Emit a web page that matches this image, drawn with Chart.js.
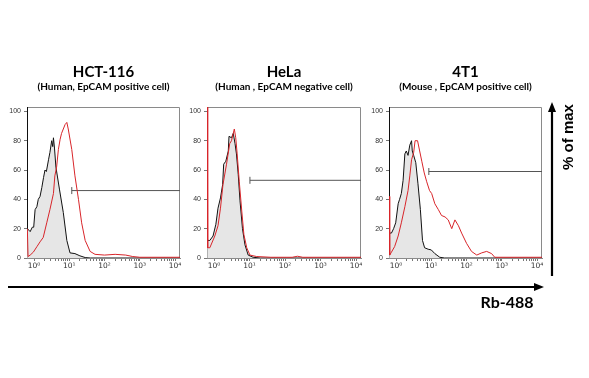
<!DOCTYPE html>
<html><head><meta charset="utf-8">
<script src="https://cdn.jsdelivr.net/npm/chart.js@4/dist/chart.umd.min.js"></script>
<style>
html,body{margin:0;padding:0;background:#fff;}
body{width:589px;height:378px;position:relative;overflow:hidden;}
.panel{position:absolute;top:55px;height:230px;}
.panel canvas{display:block;}
#ylab{position:absolute;left:567px;top:137px;transform:translate(-50%,-50%) rotate(-90deg);font:bold 15px "Liberation Sans",Arial,sans-serif;white-space:nowrap;color:#000;}
#xlab{position:absolute;left:507px;top:301px;transform:translate(-50%,-50%);font:bold 16px Lato,sans-serif;white-space:nowrap;color:#000;}
svg{position:absolute;left:0;top:0;}
</style></head>
<body>
<div class="panel" style="left:0px;width:186px"><canvas id="c0" width="186" height="230"></canvas></div>
<div class="panel" style="left:180px;width:187px"><canvas id="c1" width="187" height="230"></canvas></div>
<div class="panel" style="left:362px;width:186px"><canvas id="c2" width="186" height="230"></canvas></div>
<svg width="589" height="378">
  <line x1="8" y1="287" x2="536" y2="287" stroke="#000" stroke-width="2.2"/>
  <polygon points="534,283 544,287 534,291" fill="#000"/>
  <line x1="552" y1="276" x2="552" y2="110" stroke="#000" stroke-width="2.2"/>
  <polygon points="548,112 552,102 556,112" fill="#000"/>
</svg>
<div id="ylab">% of max</div>
<div id="xlab">Rb-488</div>
<script>
// ---- data (x values are log10 of fluorescence intensity) ----
const titles = ['HCT-116', 'HeLa', '4T1'];
const subtitles = ['(Human, EpCAM positive cell)', '(Human , EpCAM negative cell)', '(Mouse , EpCAM positive cell)'];
const tickLabels = ['10\u2070', '10\u00b9', '10\u00b2', '10\u00b3', '10\u2074'];
const majorTicks = [0, 1, 2, 3, 4];
const yTickVals = [0, 20, 40, 60, 80, 100];
const xMin = -0.2, xMax = 4.14, yMax = 103;

// HCT-116
const hctBlackX = [-0.19,-0.19,-0.11,-0.05,-0.01,0.03,0.08,0.12,0.17,0.22,0.27,0.31,0.35,0.41,0.45,0.50,0.53,0.55,0.58,0.62,0.72,0.83,0.93,1.02,1.16,1.30,1.45,1.6,4.14];
const hctBlackY = [103,20,18,21,21,33,35,40,42,48,55,60,59,67,72,80,76,82,75,62,47,31,12,3.5,3,1.5,0.3,0,0];
const hctRedX = [-0.19,-0.17,-0.11,-0.02,0.08,0.17,0.26,0.36,0.45,0.55,0.59,0.64,0.69,0.74,0.78,0.88,0.93,0.97,1.07,1.16,1.26,1.35,1.45,1.59,1.73,2.0,2.3,2.6,2.8,3.0,4.14];
const hctRedY = [20,1,2,4,7.7,11,14,24,33,44,56,62,74,81,85,91,92.5,88,74,56,40,24,12,4.5,2.5,2,2.5,2,1,0.5,0.5];

// HeLa
const helaBlackX = [-0.19,-0.19,-0.12,-0.03,0.05,0.11,0.18,0.24,0.27,0.33,0.40,0.42,0.49,0.54,0.59,0.63,0.68,0.73,0.80,0.87,0.96,1.10,1.3,4.14];
const helaBlackY = [103,12,12,15,23,34,41,50,64,66,73,83,82,85,78,71,57,39,20,9,2,0.5,0,0];
const helaRedX = [-0.19,-0.18,-0.12,0.02,0.11,0.18,0.25,0.35,0.44,0.49,0.54,0.57,0.61,0.65,0.71,0.78,0.84,0.92,1.01,1.20,1.6,2.2,2.35,2.5,4.14];
const helaRedY = [103,7,7,15,22,34,50,64,78,80,85,88,82,71,52,32,16,7,2,1,0.5,0.5,1.2,0.5,0.5];

// 4T1
const t1BlackX = [-0.19,-0.19,-0.13,-0.07,-0.01,0.06,0.10,0.15,0.20,0.25,0.29,0.34,0.39,0.44,0.46,0.50,0.56,0.62,0.69,0.75,0.81,0.91,1.00,1.10,1.24,1.38,4.14];
const t1BlackY = [103,17,17,20,24,37,40,44,53,71,73,70,77,80,73,70,65,51,33,12,7,6,5.5,3,0.5,0,0];
const t1RedX = [-0.19,-0.18,-0.13,-0.04,0.06,0.15,0.25,0.34,0.39,0.44,0.50,0.54,0.61,0.67,0.73,0.80,0.87,0.95,1.01,1.10,1.20,1.29,1.39,1.48,1.58,1.67,1.77,1.86,2.00,2.14,2.29,2.43,2.57,2.71,2.80,4.14];
const t1RedY = [42,2,4,7.8,15,24,35,46,56,67,72,80,80,73,66,58,52,46,44,37,33,29,28,26,20,26,22,17,10,4.5,2,3.5,4.5,3,0.5,0.5];

// gate bars
const gateStart = [1.07, 1.01, 0.93];
const gateLevel = [46, 53, 59];

const blackX = [hctBlackX, helaBlackX, t1BlackX];
const blackY = [hctBlackY, helaBlackY, t1BlackY];
const redX = [hctRedX, helaRedX, t1RedX];
const redY = [hctRedY, helaRedY, t1RedY];

// ---- build ----
const pts = (xs, ys) => xs.map((x, k) => ({x: x, y: ys[k]}));
const tickVals = [];
for (let d = 0; d <= 4; d++) {
  tickVals.push(d);
  if (d < 4) for (let m = 2; m <= 9; m++) tickVals.push(+(d + Math.log10(m)).toFixed(4));
}

const framePlugin = {
  id: 'frame',
  beforeDatasetsDraw(chart) {
    const a = chart.chartArea, c = chart.ctx;
    c.save();
    c.strokeStyle = '#8a8a8a';
    c.lineWidth = 1;
    c.beginPath();
    c.moveTo(a.left, a.top + 0.5);
    c.lineTo(a.right - 0.5, a.top + 0.5);
    c.lineTo(a.right - 0.5, a.bottom);
    c.stroke();
    c.restore();
  }
};

function makeChart(i) {
  new Chart(document.getElementById('c' + i), {
    type: 'line',
    data: {
      datasets: [
        {label: 'EpCAM', data: pts(redX[i], redY[i]), borderColor: '#d8252a', borderWidth: 1,
         pointRadius: 0, fill: false, tension: 0, order: 0},
        {label: 'control', data: pts(blackX[i], blackY[i]), borderColor: '#111', borderWidth: 1,
         pointRadius: 0, fill: 'origin', backgroundColor: '#e6e6e6', tension: 0, order: 1},
        {label: 'gate', data: [{x: gateStart[i], y: gateLevel[i]}, {x: xMax, y: gateLevel[i]}],
         borderColor: '#555', borderWidth: 1, pointStyle: 'line', rotation: 90,
         pointRadius: [3.5, 0], pointBorderColor: '#555', pointBorderWidth: 1, fill: false, order: 2}
      ]
    },
    options: {
      responsive: false, animation: false, events: [],
      layout: {padding: {left: 0, right: 6, top: 0, bottom: 0}},
      plugins: {
        legend: {display: false}, tooltip: {enabled: false},
        title: {display: true, text: titles[i], fullSize: false, color: '#000',
          font: {family: 'Lato', weight: 'bold', size: 15, lineHeight: 1}, padding: {top: 10, bottom: 0}},
        subtitle: {display: true, text: subtitles[i], fullSize: false, color: '#000',
          font: {family: 'Lato', weight: 'bold', size: 10, lineHeight: 1.2}, padding: {top: 1, bottom: 14}}
      },
      scales: {
        x: {
          type: 'linear', min: xMin, max: xMax,
          afterBuildTicks: s => { s.ticks = tickVals.map(v => ({value: v})); },
          afterFit: s => { s.height = 27; },
          ticks: {autoSkip: false, maxRotation: 0, minRotation: 0, padding: 1, color: '#333',
            font: {family: 'DejaVu Sans', size: 7.5},
            callback: v => { const k = majorTicks.indexOf(v); return k >= 0 ? tickLabels[k] : ''; }},
          grid: {drawOnChartArea: false, tickLength: 3, color: '#777'},
          border: {color: '#8a8a8a'}
        },
        y: {
          type: 'linear', min: 0, max: yMax,
          afterBuildTicks: s => { s.ticks = yTickVals.map(v => ({value: v})); },
          afterFit: s => { s.width = 27; },
          ticks: {padding: 3, color: '#333', font: {family: 'Liberation Sans', size: 7}},
          grid: {drawOnChartArea: false, tickLength: 3, color: '#777'},
          border: {color: '#8a8a8a'}
        }
      }
    },
    plugins: [framePlugin]
  });
}
[0, 1, 2].forEach(makeChart);
</script>
</body></html>
